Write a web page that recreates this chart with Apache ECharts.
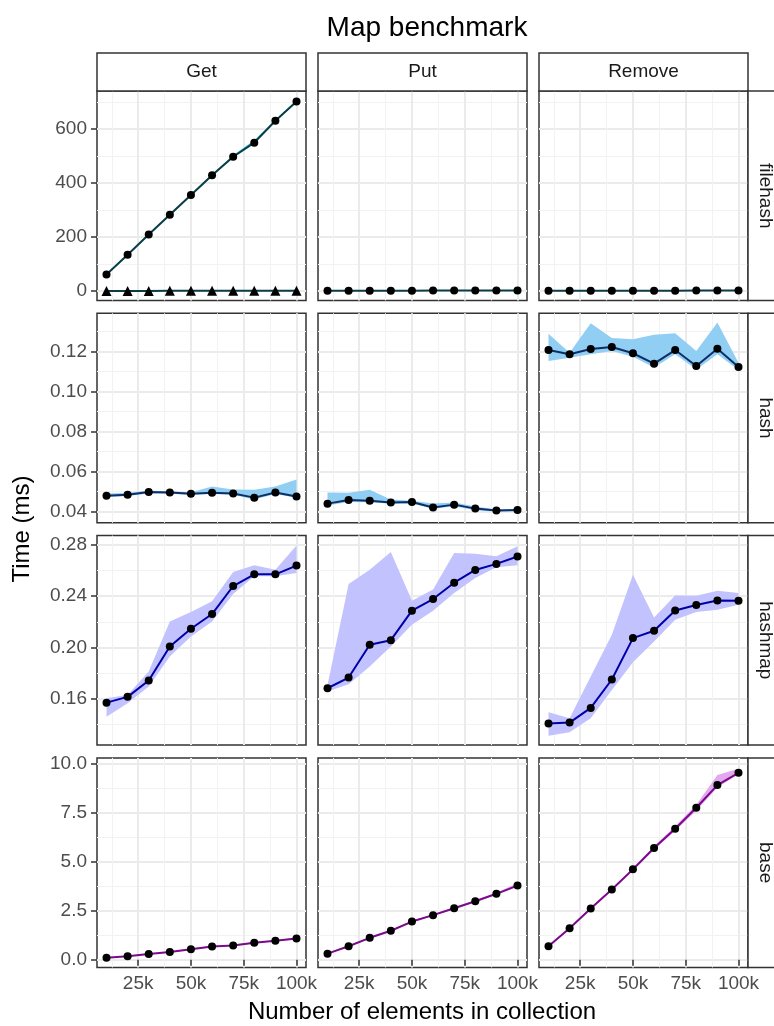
<!DOCTYPE html>
<html>
<head>
<meta charset="utf-8">
<title>Map benchmark</title>
<script src="https://cdn.jsdelivr.net/npm/echarts@6/dist/echarts.min.js"></script>
<style>
  html, body { margin: 0; padding: 0; background: #fff; }
  #chart { width: 774px; height: 1026px; }
</style>
</head>
<body>
<div id="chart"></div>
<script>
	// collection sizes (x)
	var sizes = [10000, 20000, 30000, 40000, 50000, 60000, 70000, 80000, 90000, 100000];
	var operations = ['Get', 'Put', 'Remove'];
	var mapTypes = ['filehash', 'hash', 'hashmap', 'base'];
	var xTicks = [25000, 50000, 75000, 100000];

	// filehash
	var filehashGetMean = [61, 134, 209, 282, 355, 428, 497, 549, 630, 701];
	var filehashGetLow  = [58, 131, 206, 279, 352, 425, 494, 545, 626, 698];
	var filehashGetHigh = [64, 137, 212, 285, 358, 431, 502, 558, 634, 705];
	var filehashGetCachedMean = [0.3, 0.4, 0.4, 0.5, 0.5, 0.6, 0.6, 0.7, 0.7, 0.8];
	var filehashGetCachedLow  = [0.2, 0.3, 0.3, 0.4, 0.4, 0.5, 0.5, 0.6, 0.6, 0.7];
	var filehashGetCachedHigh = [0.4, 0.5, 0.5, 0.6, 0.6, 0.7, 0.7, 0.8, 0.8, 0.9];
	var filehashPutMean = [1.1, 1.2, 1.2, 1.3, 1.3, 1.4, 1.4, 1.5, 1.5, 1.6];
	var filehashPutLow  = [1.0, 1.1, 1.1, 1.2, 1.2, 1.3, 1.3, 1.4, 1.4, 1.5];
	var filehashPutHigh = [1.2, 1.3, 1.3, 1.4, 1.4, 1.5, 1.5, 1.6, 1.6, 1.7];
	var filehashRemoveMean = [1.0, 1.1, 1.1, 1.2, 1.2, 1.3, 1.3, 1.4, 1.4, 1.5];
	var filehashRemoveLow  = [0.9, 1.0, 1.0, 1.1, 1.1, 1.2, 1.2, 1.3, 1.3, 1.4];
	var filehashRemoveHigh = [1.1, 1.2, 1.2, 1.3, 1.3, 1.4, 1.4, 1.5, 1.5, 1.6];

	// hash
	var hashGetMean = [0.0479, 0.0484, 0.0497, 0.0495, 0.0489, 0.0494, 0.0490, 0.0469, 0.0495, 0.0475];
	var hashGetLow  = [0.0472, 0.0477, 0.0490, 0.0489, 0.0484, 0.0487, 0.0484, 0.0460, 0.0487, 0.0468];
	var hashGetHigh = [0.0490, 0.0494, 0.0503, 0.0501, 0.0496, 0.0525, 0.0510, 0.0508, 0.0525, 0.0560];
	var hashPutMean = [0.0439, 0.0457, 0.0454, 0.0445, 0.0447, 0.0420, 0.0434, 0.0414, 0.0404, 0.0407];
	var hashPutLow  = [0.0430, 0.0447, 0.0446, 0.0438, 0.0440, 0.0413, 0.0426, 0.0406, 0.0398, 0.0401];
	var hashPutHigh = [0.0495, 0.0494, 0.0509, 0.0460, 0.0454, 0.0440, 0.0445, 0.0424, 0.0410, 0.0412];
	var hashRemoveMean = [0.1208, 0.1187, 0.1213, 0.1223, 0.1192, 0.1140, 0.1208, 0.1128, 0.1215, 0.1123];
	var hashRemoveLow  = [0.1153, 0.1170, 0.1187, 0.1203, 0.1175, 0.1120, 0.1187, 0.1111, 0.1187, 0.1108];
	var hashRemoveHigh = [0.1289, 0.1195, 0.1342, 0.1268, 0.1262, 0.1284, 0.1292, 0.1203, 0.1346, 0.1145];

	// hashmap
	var hashmapGetMean = [0.1571, 0.1616, 0.1743, 0.2008, 0.2146, 0.2260, 0.2478, 0.2569, 0.2569, 0.2637];
	var hashmapGetLow  = [0.1462, 0.1566, 0.1696, 0.1930, 0.2086, 0.2203, 0.2416, 0.2553, 0.2553, 0.2580];
	var hashmapGetHigh = [0.1605, 0.1631, 0.1813, 0.2203, 0.2276, 0.2359, 0.2587, 0.2639, 0.2605, 0.2793];
	var hashmapPutMean = [0.1683, 0.1766, 0.2021, 0.2057, 0.2286, 0.2377, 0.2504, 0.2603, 0.2650, 0.2707];
	var hashmapPutLow  = [0.1657, 0.1715, 0.1852, 0.2008, 0.2177, 0.2286, 0.2424, 0.2541, 0.2623, 0.2639];
	var hashmapPutHigh = [0.1709, 0.2494, 0.2605, 0.2743, 0.2364, 0.2450, 0.2735, 0.2728, 0.2709, 0.2787];
	var hashmapRemoveMean = [0.1408, 0.1416, 0.1530, 0.1751, 0.2073, 0.2130, 0.2288, 0.2330, 0.2366, 0.2364];
	var hashmapRemoveLow  = [0.1314, 0.1340, 0.1450, 0.1670, 0.1886, 0.2047, 0.2216, 0.2276, 0.2294, 0.2333];
	var hashmapRemoveHigh = [0.1496, 0.1450, 0.1774, 0.2099, 0.2566, 0.2234, 0.2405, 0.2403, 0.2442, 0.2424];

	// base
	var baseGetMean = [0.10, 0.18, 0.29, 0.39, 0.54, 0.68, 0.73, 0.87, 0.97, 1.09];
	var baseGetLow  = [0.08, 0.16, 0.27, 0.37, 0.51, 0.65, 0.70, 0.84, 0.94, 1.05];
	var baseGetHigh = [0.12, 0.20, 0.31, 0.42, 0.57, 0.71, 0.77, 0.90, 1.00, 1.13];
	var basePutMean = [0.31, 0.69, 1.12, 1.48, 1.95, 2.28, 2.63, 2.99, 3.37, 3.79];
	var basePutLow  = [0.28, 0.66, 1.09, 1.45, 1.91, 2.24, 2.59, 2.95, 3.33, 3.74];
	var basePutHigh = [0.34, 0.72, 1.15, 1.52, 1.99, 2.32, 2.68, 3.04, 3.42, 3.92];
	var baseRemoveMean = [0.69, 1.61, 2.62, 3.59, 4.62, 5.71, 6.70, 7.77, 8.93, 9.56];
	var baseRemoveLow  = [0.66, 1.57, 2.58, 3.54, 4.56, 5.62, 6.60, 7.62, 8.81, 9.50];
	var baseRemoveHigh = [0.72, 1.65, 2.66, 3.64, 4.70, 5.80, 6.82, 7.92, 9.45, 9.76];

	// y scale per row: limits, breaks, label decimals
	var yMins = [-35.2, 0.0343, 0.1241, -0.393];
	var yMaxs = [740.2, 0.1392, 0.2870, 10.32];
	var yBreaks = [[0, 200, 400, 600], [0.04, 0.06, 0.08, 0.10, 0.12], [0.16, 0.20, 0.24, 0.28], [0, 2.5, 5, 7.5, 10]];
	var ySteps = [200, 0.02, 0.04, 2.5];
	var yDecimals = [0, 2, 2, 1];

	// colours per row
	var ribbonColors = ['#3cc3d3', '#91cef4', '#c2c2ff', '#e2a9ef'];
	var lineColors = ['#0b3d47', '#0e2f66', '#0000a8', '#7b0a8b'];

	var panelData = [
		[
			[[filehashGetMean, filehashGetLow, filehashGetHigh, 'circle'], [filehashGetCachedMean, filehashGetCachedLow, filehashGetCachedHigh, 'triangle']],
			[[filehashPutMean, filehashPutLow, filehashPutHigh, 'circle']],
			[[filehashRemoveMean, filehashRemoveLow, filehashRemoveHigh, 'circle']]
		],
		[
			[[hashGetMean, hashGetLow, hashGetHigh, 'circle']],
			[[hashPutMean, hashPutLow, hashPutHigh, 'circle']],
			[[hashRemoveMean, hashRemoveLow, hashRemoveHigh, 'circle']]
		],
		[
			[[hashmapGetMean, hashmapGetLow, hashmapGetHigh, 'circle']],
			[[hashmapPutMean, hashmapPutLow, hashmapPutHigh, 'circle']],
			[[hashmapRemoveMean, hashmapRemoveLow, hashmapRemoveHigh, 'circle']]
		],
		[
			[[baseGetMean, baseGetLow, baseGetHigh, 'circle']],
			[[basePutMean, basePutLow, basePutHigh, 'circle']],
			[[baseRemoveMean, baseRemoveLow, baseRemoveHigh, 'circle']]
		]
	];

	// layout
	var left0 = 97, top0 = 91, panelW = 209, panelH = 209.5, stepX = 221, stepY = 222.3;
	var fontFam = '"Liberation Sans", Arial, Helvetica, sans-serif';
	var tickColor = '#333333';
	var labelColor = '#4d4d4d';

	var grids = [], xAxes = [], yAxes = [], series = [], graphics = [];

	function ribbonSeries(idx, xs, low, high, color) {
		return {
			type: 'custom',
			xAxisIndex: idx,
			yAxisIndex: idx,
			silent: true,
			z: 2,
			clip: true,
			data: [[xs[0], low[0]]],
			renderItem: function(params, api) {
				var pts = [];
				for (var k = 0; k < xs.length; k++) pts.push(api.coord([xs[k], high[k]]));
				for (var k = xs.length - 1; k >= 0; k--) pts.push(api.coord([xs[k], low[k]]));
				return { type: 'polygon', shape: { points: pts }, style: { fill: color } };
			}
		};
	}

	for (var r = 0; r < mapTypes.length; r++) {
		for (var c = 0; c < operations.length; c++) {
			var idx = r * 3 + c;
			var gl = left0 + c * stepX, gt = top0 + r * stepY;
			grids.push({
				left: gl, top: gt, width: panelW, height: panelH,
				show: true, backgroundColor: '#fff', borderColor: '#333333', borderWidth: 1.5,
				z: 0
			});
			xAxes.push({
				gridIndex: idx, type: 'value', min: 5500, max: 104500,
				minInterval: 25000, maxInterval: 25000,
				axisLine: { show: false },
				axisTick: { show: r === 3, length: 6, customValues: xTicks, lineStyle: { color: tickColor, width: 1.5 } },
				axisLabel: {
					show: r === 3, customValues: xTicks, margin: 7, color: labelColor, fontSize: 19, fontFamily: fontFam,
					formatter: function(v) { return xTicks.indexOf(v) >= 0 ? (v / 1000) + 'k' : ''; }
				},
				splitLine: { show: true, lineStyle: { color: '#ebebeb', width: 2 } },
				minorTick: { show: false, splitNumber: 2 },
				minorSplitLine: { show: true, lineStyle: { color: '#f2f2f2', width: 1 } }
			});
			(function(row) {
				yAxes.push({
					gridIndex: idx, type: 'value', min: yMins[row], max: yMaxs[row],
					minInterval: ySteps[row], maxInterval: ySteps[row],
					axisLine: { show: false },
					axisTick: { show: c === 0, length: 6, customValues: yBreaks[row], lineStyle: { color: tickColor, width: 1.5 } },
					axisLabel: {
						show: c === 0, customValues: yBreaks[row], margin: 10, color: labelColor, fontSize: 19, fontFamily: fontFam,
						formatter: function(v) {
							for (var b = 0; b < yBreaks[row].length; b++) {
								if (Math.abs(yBreaks[row][b] - v) < ySteps[row] * 1e-6) return yBreaks[row][b].toFixed(yDecimals[row]);
							}
							return '';
						}
					},
					splitLine: { show: true, lineStyle: { color: '#ebebeb', width: 2 } },
					minorTick: { show: false, splitNumber: 2 },
					minorSplitLine: { show: true, lineStyle: { color: '#f2f2f2', width: 1 } }
				});
			})(r);

			var groups = panelData[r][c];
			for (var g = 0; g < groups.length; g++) {
				var mean = groups[g][0], low = groups[g][1], high = groups[g][2];
				series.push(ribbonSeries(idx, sizes, low, high, ribbonColors[r]));
				series.push({
					type: 'line',
					xAxisIndex: idx, yAxisIndex: idx,
					data: sizes.map(function(x, k) { return [x, mean[k]]; }),
					symbol: groups[g][3],
					symbolSize: groups[g][3] === 'triangle' ? 10 : 8,
					showSymbol: true,
					itemStyle: { color: '#000' },
					lineStyle: { color: lineColors[r], width: 2 },
					z: 3,
					silent: true
				});
			}

			// column strips on top row
			if (r === 0) {
				graphics.push({
					type: 'rect', z: 10,
					shape: { x: gl, y: 53, width: panelW, height: top0 - 53 },
					style: { fill: '#fff', stroke: '#333333', lineWidth: 1.5 }
				});
				graphics.push({
					type: 'text', z: 11, x: gl + panelW / 2, y: 72,
					style: { text: operations[c], fill: '#1a1a1a', fontSize: 19, fontFamily: fontFam, align: 'center', verticalAlign: 'middle' }
				});
			}
			// row strips on right column
			if (c === 2) {
				graphics.push({
					type: 'rect', z: 10,
					shape: { x: gl + panelW, y: gt, width: 40, height: panelH },
					style: { fill: '#fff', stroke: '#333333', lineWidth: 1.5 }
				});
				graphics.push({
					type: 'text', z: 11, x: gl + panelW + 17, y: gt + panelH / 2, rotation: -Math.PI / 2,
					style: { text: mapTypes[r], fill: '#1a1a1a', fontSize: 19, fontFamily: fontFam, align: 'center', verticalAlign: 'middle' }
				});
			}
		}
	}

	// axis titles
	graphics.push({
		type: 'text', x: 422, y: 1012,
		style: { text: 'Number of elements in collection', fill: '#000', fontSize: 24, fontFamily: fontFam, align: 'center', verticalAlign: 'middle' }
	});
	graphics.push({
		type: 'text', x: 22, y: 529, rotation: Math.PI / 2,
		style: { text: 'Time (ms)', fill: '#000', fontSize: 24, fontFamily: fontFam, align: 'center', verticalAlign: 'middle' }
	});

	var myChart = echarts.init(document.getElementById('chart'));
	myChart.setOption({
		animation: false,
		backgroundColor: '#fff',
		textStyle: { fontFamily: fontFam },
		title: {
			text: 'Map benchmark', left: 422, top: 9, textAlign: 'center',
			textStyle: { fontSize: 28, fontWeight: 'normal', color: '#000', fontFamily: fontFam }
		},
		grid: grids,
		xAxis: xAxes,
		yAxis: yAxes,
		series: series,
		graphic: graphics
	});
</script>
</body>
</html>
